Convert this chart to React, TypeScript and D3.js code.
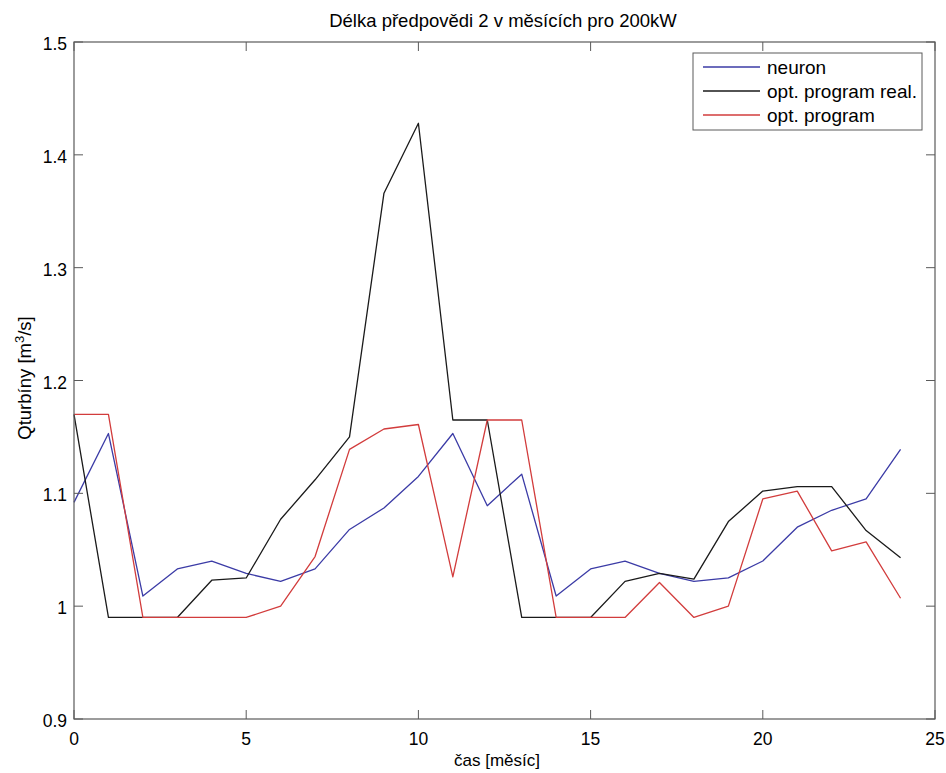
import React, { useEffect, useRef } from 'react';
import * as d3 from 'd3';

// hodnoty (mesic 0..24)
const months = d3.range(0, 25);
const neuron = [1.092, 1.153, 1.009, 1.033, 1.04, 1.029, 1.022, 1.033, 1.068, 1.087, 1.115, 1.153, 1.089, 1.117, 1.009, 1.033, 1.04, 1.029, 1.022, 1.025, 1.04, 1.07, 1.085, 1.095, 1.139];
const optReal = [1.17, 0.99, 0.99, 0.99, 1.023, 1.025, 1.077, 1.112, 1.15, 1.366, 1.428, 1.165, 1.165, 0.99, 0.99, 0.99, 1.022, 1.029, 1.024, 1.075, 1.102, 1.106, 1.106, 1.067, 1.043];
const optProgram = [1.17, 1.17, 0.99, 0.99, 0.99, 0.99, 1.0, 1.044, 1.139, 1.157, 1.161, 1.026, 1.165, 1.165, 0.99, 0.99, 0.99, 1.021, 0.99, 1.0, 1.095, 1.102, 1.049, 1.057, 1.007];

const seriesNames = ['neuron', 'opt. program real.', 'opt. program'];
const seriesColors = ['#3b3ba6', '#1a1a1a', '#d23c3c'];
const xTicks = [0, 5, 10, 15, 20, 25];
const yTicks = [0.9, 1, 1.1, 1.2, 1.3, 1.4, 1.5];

const W = 946;
const H = 773;
const left = 74;
const right = 935;
const top = 42;
const bottom = 719;

function drawChart(svgEl: SVGSVGElement) {
    const svg = d3.select(svgEl);
    svg.selectAll('*').remove();

    const x = d3.scaleLinear().domain([0, 25]).range([left, right]);
    const y = d3.scaleLinear().domain([0.9, 1.5]).range([bottom, top]);
    const font = 'Liberation Sans, Arial, sans-serif';
    const axisColor = '#5a5a5a';
    const tickLen = 9;

    svg.append('rect').attr('width', W).attr('height', H).attr('fill', '#fff');

    // data
    const line = d3.line<number>()
        .x((d, i) => x(months[i]))
        .y(d => y(d));

    [neuron, optReal, optProgram].forEach((s, i) => {
        svg.append('path')
            .attr('d', line(s))
            .attr('fill', 'none')
            .attr('stroke', seriesColors[i])
            .attr('stroke-width', 1.3)
            .attr('stroke-linejoin', 'round');
    });

    // box + ticks (matlab styl, dovnitr)
    svg.append('rect')
        .attr('x', left).attr('y', top)
        .attr('width', right - left).attr('height', bottom - top)
        .attr('fill', 'none').attr('stroke', axisColor).attr('stroke-width', 1.2);

    xTicks.forEach(t => {
        svg.append('line').attr('x1', x(t)).attr('x2', x(t)).attr('y1', bottom).attr('y2', bottom - tickLen)
            .attr('stroke', axisColor);
        svg.append('line').attr('x1', x(t)).attr('x2', x(t)).attr('y1', top).attr('y2', top + tickLen)
            .attr('stroke', axisColor);
        svg.append('text')
            .attr('x', x(t)).attr('y', bottom + 26)
            .attr('text-anchor', 'middle')
            .attr('font-family', font).attr('font-size', 17.5)
            .text(String(t));
    });

    yTicks.forEach(t => {
        svg.append('line').attr('x1', left).attr('x2', left + tickLen).attr('y1', y(t)).attr('y2', y(t))
            .attr('stroke', axisColor);
        svg.append('line').attr('x1', right).attr('x2', right - tickLen).attr('y1', y(t)).attr('y2', y(t))
            .attr('stroke', axisColor);
        svg.append('text')
            .attr('x', left - 7).attr('y', y(t) + 8)
            .attr('text-anchor', 'end')
            .attr('font-family', font).attr('font-size', 17.5)
            .text(t === 1 ? '1' : d3.format('.1f')(t));
    });

    // popisky
    svg.append('text')
        .attr('x', 503).attr('y', 27)
        .attr('text-anchor', 'middle')
        .attr('font-family', font).attr('font-size', 18.5)
        .text('Délka předpovědi 2 v měsících pro 200kW');

    svg.append('text')
        .attr('x', 497).attr('y', 766)
        .attr('text-anchor', 'middle')
        .attr('font-family', font).attr('font-size', 17)
        .text('čas [měsíc]');

    const yl = svg.append('text')
        .attr('transform', `translate(31, 378) rotate(-90)`)
        .attr('text-anchor', 'middle')
        .attr('font-family', font).attr('font-size', 18.5);
    yl.append('tspan').text('Qturbíny [m');
    yl.append('tspan').attr('dy', -7).attr('font-size', 13).text('3');
    yl.append('tspan').attr('dy', 7).text('/s]');

    // legenda
    const lg = svg.append('g');
    lg.append('rect')
        .attr('x', 693).attr('y', 53).attr('width', 229).attr('height', 77)
        .attr('fill', '#fff').attr('stroke', axisColor).attr('stroke-width', 1);
    seriesNames.forEach((name, i) => {
        const ly = 67 + i * 24;
        lg.append('line')
            .attr('x1', 703).attr('x2', 760).attr('y1', ly).attr('y2', ly)
            .attr('stroke', seriesColors[i]).attr('stroke-width', 1.3);
        lg.append('text')
            .attr('x', 767).attr('y', ly + 7)
            .attr('font-family', font).attr('font-size', 19)
            .text(name);
    });
}

export default function App() {
    const ref = useRef<SVGSVGElement>(null);

    useEffect(() => {
        if (ref.current) drawChart(ref.current);
    }, []);

    return (
        <svg ref={ref} width={W} height={H}
            style={{ position: 'absolute', left: 0, top: 0, display: 'block' }} />
    );
}
